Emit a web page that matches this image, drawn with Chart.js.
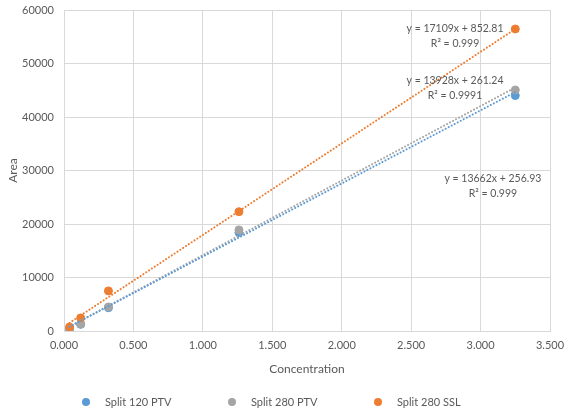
<!DOCTYPE html>
<html>
<head>
<meta charset="utf-8">
<script src="https://cdn.jsdelivr.net/npm/chart.js@4.4.1/dist/chart.umd.min.js"></script>
<style>
  html, body { margin: 0; padding: 0; background: #fff; }
  #wrap { width: 575px; height: 413px; }
</style>
</head>
<body>
<div id="wrap"><canvas id="chart"></canvas></div>
<script>
const concentration = [0.04, 0.12, 0.32, 1.26, 3.25];
const split120PTV = [350, 1250, 4350, 18400, 44000];
const split280PTV = [420, 1300, 4500, 18900, 45050];
const split280SSL = [750, 2450, 7500, 22300, 56450];

// linear trendline ends, over the measured concentration range
const trendX = [0.04, 3.25];
const trend120PTV = [803, 44658];
const trend280PTV = [818, 45527];
const trend280SSL = [1537, 56456];

const seriesNames = ['Split 120 PTV', 'Split 280 PTV', 'Split 280 SSL'];
const equations = [
    ['y = 13662x + 256.93', 'R² = 0.999'],
    ['y = 13928x + 261.24', 'R² = 0.9991'],
    ['y = 17109x + 852.81', 'R² = 0.999'],
];

const COLORS = ['#5B9BD5', '#A5A5A5', '#ED7D31'];
const TEXT = '#595959';
const GRID = '#D9D9D9';
const FONT = 'Lato, "Open Sans", sans-serif';

const toPoints = (xs, ys) => xs.map((x, i) => ({ x, y: ys[i] }));

const seriesValues = [split120PTV, split280PTV, split280SSL];
const trendValues = [trend120PTV, trend280PTV, trend280SSL];

const scatterSets = seriesValues.map((values, i) => ({
    label: seriesNames[i],
    data: toPoints(concentration, values),
    backgroundColor: COLORS[i],
    borderColor: COLORS[i],
    borderWidth: 1,
    pointRadius: 4,
    showLine: false,
    order: 3 - i,
}));

const trendSets = trendValues.map((values, i) => ({
    label: seriesNames[i] + ' trend',
    data: toPoints(trendX, values),
    borderColor: COLORS[i],
    borderWidth: 2,
    borderDash: [0.1, 3.3],
    borderCapStyle: 'round',
    pointRadius: 0,
    showLine: true,
    order: 0,
}));

// equation boxes, anchored in data units (centre of the two lines)
const equationLabels = {
    id: 'equationLabels',
    afterDatasetsDraw(chart, args, opts) {
        const { ctx, scales } = chart;
        ctx.save();
        ctx.font = opts.font;
        ctx.fillStyle = TEXT;
        ctx.textAlign = 'center';
        ctx.textBaseline = 'middle';
        opts.anchors.forEach((a, i) => {
            const x = scales.x.getPixelForValue(a.x);
            const y = scales.y.getPixelForValue(a.y);
            ctx.fillText(equations[i][0], x, y - opts.lineGap / 2);
            ctx.fillText(equations[i][1], x, y + opts.lineGap / 2);
        });
        ctx.restore();
    },
};

// Excel-style legend row, spread wider than the built-in one allows
const bottomLegend = {
    id: 'bottomLegend',
    afterDraw(chart, args, opts) {
        const ctx = chart.ctx;
        ctx.save();
        ctx.font = opts.font;
        ctx.textBaseline = 'middle';
        ctx.textAlign = 'left';
        opts.xs.forEach((x, i) => {
            ctx.fillStyle = COLORS[i];
            ctx.beginPath();
            ctx.arc(x, opts.y, opts.radius, 0, Math.PI * 2);
            ctx.fill();
            ctx.fillStyle = TEXT;
            ctx.fillText(seriesNames[i], x + opts.textGap, opts.y);
        });
        ctx.restore();
    },
};

new Chart(document.getElementById('chart'), {
    type: 'scatter',
    data: { datasets: [...scatterSets, ...trendSets] },
    options: {
        responsive: true,
        maintainAspectRatio: false,
        animation: false,
        layout: { padding: { top: 10, right: 25, bottom: 0, left: 0 } },
        plugins: {
            legend: { display: false },
            tooltip: { enabled: false },
            equationLabels: {
                font: '10.5px ' + FONT,
                lineGap: 15,
                anchors: [
                    { x: 3.089, y: 27009 },
                    { x: 2.816, y: 45327 },
                    { x: 2.816, y: 55050 },
                ],
            },
            bottomLegend: {
                font: '11px ' + FONT,
                xs: [86, 232, 378],
                y: 402,
                radius: 4,
                textGap: 19,
            },
        },
        scales: {
            x: {
                type: 'linear',
                min: 0,
                max: 3.5,
                ticks: {
                    stepSize: 0.5,
                    color: TEXT,
                    font: { family: FONT, size: 11 },
                    padding: 8,
                    callback: (v) => v.toFixed(3),
                },
                grid: { color: GRID, drawTicks: false },
                border: { color: GRID },
                title: {
                    display: true,
                    text: 'Concentration',
                    color: TEXT,
                    font: { family: FONT, size: 12 },
                    padding: { top: 0, bottom: 37 },
                },
                afterFit: (scale) => {
                    scale.height = 82;
                    scale.paddingLeft = 0;
                    scale.paddingRight = 0;
                },
            },
            y: {
                min: 0,
                max: 60000,
                ticks: {
                    stepSize: 10000,
                    color: TEXT,
                    font: { family: FONT, size: 11 },
                    padding: 10,
                    callback: (v) => String(v),
                },
                grid: { color: GRID, drawTicks: false },
                border: { color: GRID },
                title: {
                    display: true,
                    text: 'Area',
                    color: TEXT,
                    font: { family: FONT, size: 12 },
                    padding: { top: 6, bottom: 0 },
                },
                afterFit: (scale) => {
                    scale.width = 64;
                    scale.paddingTop = 0;
                    scale.paddingBottom = 0;
                },
            },
        },
    },
    plugins: [equationLabels, bottomLegend],
});
</script>
</body>
</html>
